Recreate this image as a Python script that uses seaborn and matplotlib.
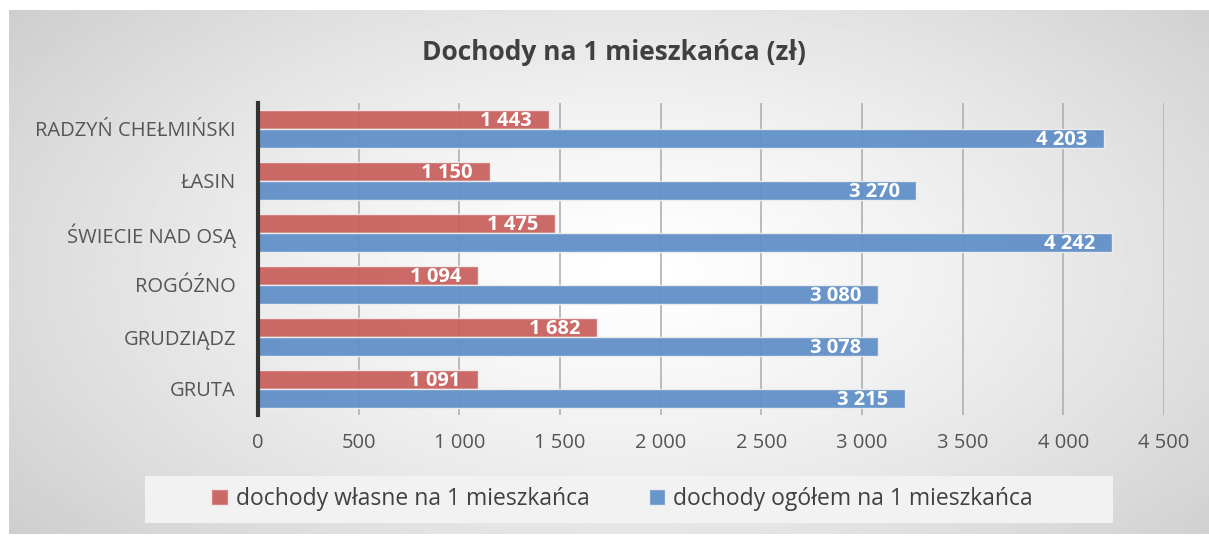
import numpy as np
import pandas as pd
import seaborn as sns
import matplotlib

matplotlib.use("Agg")
from matplotlib import pyplot as plt
from matplotlib.patches import Rectangle, Patch

gminy = ["RADZYŃ CHEŁMIŃSKI", "ŁASIN", "ŚWIECIE NAD OSĄ", "ROGÓŹNO", "GRUDZIĄDZ", "GRUTA"]
dochody_wlasne = [1443, 1150, 1475, 1094, 1682, 1091]
dochody_ogolem = [4203, 3270, 4242, 3080, 3078, 3215]
series = ["dochody własne na 1 mieszkańca", "dochody ogółem na 1 mieszkańca"]
x_ticks = [0, 500, 1000, 1500, 2000, 2500, 3000, 3500, 4000, 4500]

colors = ["#c9625f", "#6190c8"]
text_color = "#404040"

sns.set_theme(style="white")
plt.rcParams["font.family"] = ["Open Sans", "DejaVu Sans"]

df = pd.DataFrame({
    "gmina": gminy * 2,
    "wartosc": dochody_wlasne + dochody_ogolem,
    "seria": [series[0]] * len(gminy) + [series[1]] * len(gminy),
})

W, H = 1209, 536
fig = plt.figure(figsize=(W / 100, H / 100), dpi=100)

# radial grey background
bg = fig.add_axes([9 / W, 2 / H, 1 - 9 / W, (H - 12) / H])
yy, xx = np.mgrid[0:1:300j, 0:1:600j]
r = np.sqrt(((xx - 0.52) / 0.8) ** 2 + ((yy - 0.5) / 1.0) ** 2)
shade = 1.0 - 0.25 * np.clip(r, 0, 1.0) ** 1.3
bg.imshow(shade, cmap="gray", vmin=0, vmax=1, aspect="auto", extent=[0, 1, 0, 1])
bg.set_axis_off()

ax = fig.add_axes([258 / W, 1 - 415 / H, (1164 - 258) / W, (415 - 103) / H])
ax.patch.set_alpha(0)

sns.barplot(data=df, y="gmina", x="wartosc", hue="seria", orient="h",
            palette=colors, saturation=1, width=0.74, alpha=0.95,
            edgecolor="#eeeeee", linewidth=1, ax=ax, legend=False, zorder=3)

ax.set_xlim(0, 4500)
ax.set_xticks(x_ticks)
ax.set_xticklabels([f"{t:,}".replace(",", " ") for t in x_ticks],
                   fontsize=14.5, color="#555555")
ax.tick_params(axis="x", length=0, pad=13)
ax.tick_params(axis="y", length=0, pad=16, labelsize=14.5, labelcolor="#555555")
ax.set_xlabel("")
ax.set_ylabel("")
ax.grid(axis="x", color="#b0b0b0", linewidth=1.2, zorder=0)
ax.grid(axis="y", visible=False)
for s in ["top", "right", "bottom"]:
    ax.spines[s].set_visible(False)
ax.spines["left"].set_color("#333333")
ax.spines["left"].set_linewidth(3)
ax.spines["left"].set_zorder(5)

for container in ax.containers:
    for bar, v in zip(container, container.datavalues):
        ax.annotate(f"{int(v):,}".replace(",", " "),
                    xy=(bar.get_x() + bar.get_width(), bar.get_y() + bar.get_height() / 2),
                    xytext=(-12, -1), textcoords="offset points", ha="right",
                    va="center", color="white", fontsize=14.5,
                    fontweight="bold", zorder=6)

fig.text(614 / W, 1 - 53 / H, "Dochody na 1 mieszkańca (zł)", ha="center",
         va="center", fontsize=19, fontweight="bold", color=text_color)

# legend box
fig.patches.append(Rectangle((145 / W, 1 - 523 / H), (1113 - 145) / W, 47 / H,
                             transform=fig.transFigure, facecolor="#f2f2f2",
                             edgecolor="none", zorder=1))
handles = [Patch(facecolor=c, alpha=0.95, edgecolor="#eeeeee") for c in colors]
fig.legend(handles, series, loc="center", bbox_to_anchor=(622 / W, 1 - 499 / H),
           ncol=2, frameon=False, fontsize=16.5, labelcolor="#404040",
           handlelength=0.7, handleheight=0.7, handletextpad=0.35,
           columnspacing=2.6)

fig.savefig("out.png", dpi=100)
